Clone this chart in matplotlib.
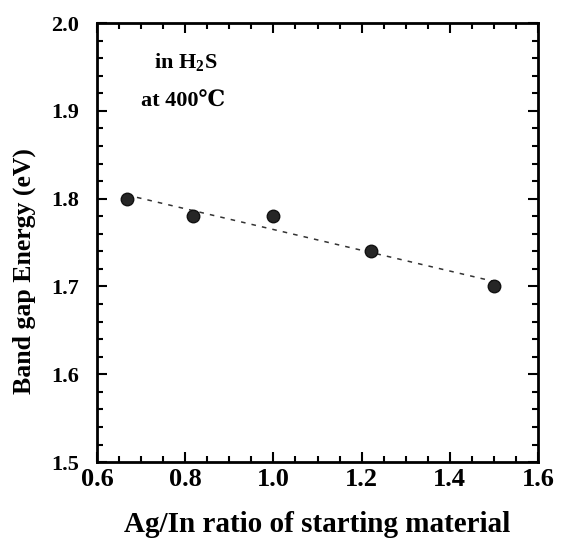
import numpy as np
import matplotlib
matplotlib.use('Agg')
import matplotlib.pyplot as plt
from matplotlib.ticker import MultipleLocator

# Ag/In ratio vs band gap (in H2S at 400 C)
ratio = [0.667, 0.818, 1.0, 1.222, 1.5]
gap = [1.80, 1.78, 1.78, 1.74, 1.70]
xticks = [0.6, 0.8, 1.0, 1.2, 1.4, 1.6]
yticks = [1.5, 1.6, 1.7, 1.8, 1.9, 2.0]

plt.rcParams['font.family'] = ['Liberation Serif', 'DejaVu Serif']
plt.rcParams['font.weight'] = 'bold'
plt.rcParams['mathtext.fontset'] = 'custom'
plt.rcParams['mathtext.rm'] = 'Liberation Serif:bold'
plt.rcParams['mathtext.bf'] = 'Liberation Serif:bold'

fig = plt.figure(figsize=(5.65, 5.43), dpi=100)
ax = fig.add_axes([0.1717, 0.149, 0.7805, 0.8085])

# linear fit through the points
k, b = np.polyfit(ratio, gap, 1)
fx = np.array([ratio[0], ratio[-1]])
ax.plot(fx, k * fx + b, linestyle=(0, (3, 4)), color='#333333', linewidth=1.1)
ax.plot(ratio, gap, 'o', color='#262626', markersize=9,
        markeredgecolor='#111111', markeredgewidth=1.0)

ax.set_xlim(0.6, 1.6)
ax.set_ylim(1.5, 2.0)
ax.set_xticks(xticks)
ax.set_yticks(yticks)
ax.xaxis.set_minor_locator(MultipleLocator(0.05))
ax.yaxis.set_minor_locator(MultipleLocator(0.02))
ax.tick_params(which='both', direction='in', top=True, right=True, width=1.5)
ax.tick_params(which='major', length=7)
ax.tick_params(which='minor', length=4)
ax.tick_params(axis='x', which='major', labelsize=19, pad=4)
ax.tick_params(axis='y', which='major', labelsize=16, pad=13)
for lab in ax.get_xticklabels() + ax.get_yticklabels():
    lab.set_fontweight('bold')
for s in ax.spines.values():
    s.set_linewidth(2)

ax.set_xlabel('Ag/In ratio of starting material', fontsize=21, fontweight='bold', labelpad=15)
ax.set_ylabel('Band gap Energy (eV)', fontsize=18.5, fontweight='bold')
ax.yaxis.set_label_coords(-0.138, 0.435)

ax.text(0.2, 0.91, 'in H$_\\mathbf{2}$S', transform=ax.transAxes, fontsize=16,
        fontweight='bold', ha='center', va='center')
ax.text(0.195, 0.82, 'at 400\u2103', transform=ax.transAxes, fontsize=16,
        fontweight='bold', ha='center', va='center')

plt.savefig('out.png', dpi=100)
